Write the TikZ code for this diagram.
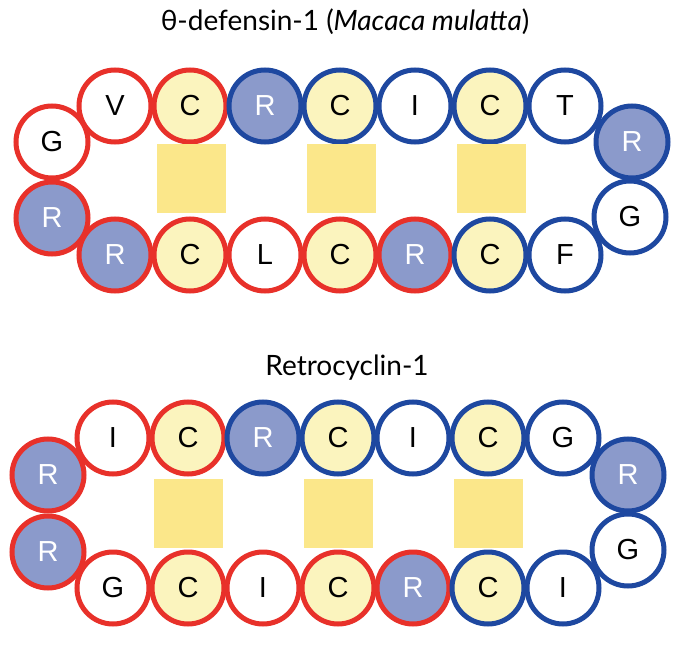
\documentclass[tikz,border=0pt]{standalone}
\usepackage{fontspec}
\setmainfont{Liberation Sans}
\newfontfamily\titlefont{Lato}
\usetikzlibrary{positioning,calc}

\definecolor{resred}{HTML}{E8312A}
\definecolor{resblue}{HTML}{1E48A0}
\definecolor{argblue}{HTML}{8B9ACB}
\definecolor{cysyellow}{HTML}{FBF4BE}
\definecolor{bondyellow}{HTML}{FBE78A}

\tikzset{
  res/.style={circle, minimum size=72pt, inner sep=0pt, line width=5pt,
    fill=white, font=\fontsize{29}{29}\selectfont},
  redres/.style={res, draw=resred},
  blueres/.style={res, draw=resblue},
  cys/.style={fill=cysyellow},
  arg/.style={fill=argblue, text=white},
  bond/.style={fill=bondyellow, minimum size=69pt, inner sep=0pt},
  heading/.style={font=\titlefont\fontsize{28}{28}\selectfont}
}

\begin{document}
\begin{tikzpicture}[x=1pt, y=-1pt, node distance=-2pt]

  \useasboundingbox (0,0) rectangle (688,647);

  % theta-defensin-1
  \node[heading] (t1) at (345,22) {θ-defensin-1 (\textit{Macaca mulatta})};

  % Define nodes (top row)
  \node[redres]             (a1) at (115,106) {V};
  \node[redres, cys,  right=of a1] (a2) {C};
  \node[blueres, arg, right=of a2] (a3) {R};
  \node[blueres, cys, right=of a3] (a4) {C};
  \node[blueres,      right=of a4] (a5) {I};
  \node[blueres, cys, right=of a5] (a6) {C};
  \node[blueres,      right=of a6] (a7) {T};

  % bottom row
  \node[redres, arg]        (b1) at (115,255) {R};
  \node[redres, cys,  right=of b1] (b2) {C};
  \node[redres,       right=of b2] (b3) {L};
  \node[redres, cys,  right=of b3] (b4) {C};
  \node[redres, arg,  right=of b4] (b5) {R};
  \node[blueres, cys, right=of b5] (b6) {C};
  \node[blueres,      right=of b6] (b7) {F};

  % turns
  \node[redres]             (l1) at (52,142) {G};
  \node[redres, arg]        (l2) at (52,218) {R};
  \node[blueres, arg]       (r1) at (632,142) {R};
  \node[blueres]            (r2) at (630,217) {G};

  % disulfide bonds
  \node[bond] (s1) at ($(a2)!0.5!(b2)+(1,-2)$) {};
  \node[bond] (s2) at ($(a4)!0.5!(b4)+(1,-2)$) {};
  \node[bond] (s3) at ($(a6)!0.5!(b6)+(1,-2)$) {};

  % Retrocyclin-1
  \node[heading] (t2) at (347,368) {Retrocyclin-1};

  % Define nodes (top row)
  \node[redres]             (c1) at (113,438) {I};
  \node[redres, cys,  right=of c1] (c2) {C};
  \node[blueres, arg, right=of c2] (c3) {R};
  \node[blueres, cys, right=of c3] (c4) {C};
  \node[blueres,      right=of c4] (c5) {I};
  \node[blueres, cys, right=of c5] (c6) {C};
  \node[blueres,      right=of c6] (c7) {G};

  % bottom row
  \node[redres]             (d1) at (113,588) {G};
  \node[redres, cys,  right=of d1] (d2) {C};
  \node[redres,       right=of d2] (d3) {I};
  \node[redres, cys,  right=of d3] (d4) {C};
  \node[redres, arg,  right=of d4] (d5) {R};
  \node[blueres, cys, right=of d5] (d6) {C};
  \node[blueres,      right=of d6] (d7) {I};

  % turns
  \node[redres, arg]        (m1) at (48,475) {R};
  \node[redres, arg]        (m2) at (48,552) {R};
  \node[blueres, arg]       (n1) at (628,475) {R};
  \node[blueres]            (n2) at (628,550) {G};

  % disulfide bonds
  \node[bond] (u1) at ($(c2)!0.5!(d2)$) {};
  \node[bond] (u2) at ($(c4)!0.5!(d4)$) {};
  \node[bond] (u3) at ($(c6)!0.5!(d6)$) {};

\end{tikzpicture}
\end{document}
